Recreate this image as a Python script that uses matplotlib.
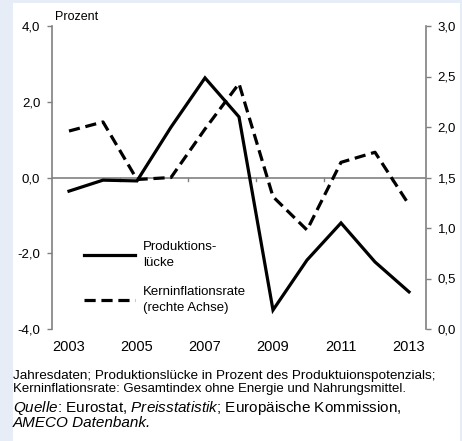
import matplotlib
matplotlib.use("Agg")
import matplotlib.pyplot as plt
from matplotlib.patches import Rectangle
from matplotlib.ticker import FuncFormatter

plt.rcParams['font.family'] = ['Liberation Sans', 'DejaVu Sans']
plt.rcParams['mathtext.fontset'] = 'custom'
plt.rcParams['mathtext.rm'] = 'Liberation Sans'
plt.rcParams['mathtext.it'] = 'Liberation Sans:italic'

# Data
years = [2003, 2004, 2005, 2006, 2007, 2008, 2009, 2010, 2011, 2012, 2013]
produktionsluecke = [-0.36, -0.07, -0.09, 1.33, 2.63, 1.60, -3.50, -2.18, -1.20, -2.23, -3.02]
kerninflation = [1.96, 2.05, 1.48, 1.50, 1.98, 2.43, 1.31, 0.98, 1.65, 1.75, 1.23]
yearLabels = [2003, 2005, 2007, 2009, 2011, 2013]

grey = '#808080'
comma = FuncFormatter(lambda v, p: ('%.1f' % v).replace('.', ','))
W, H = 462, 441

fig = plt.figure(figsize=(W/100, H/100), dpi=100)
fig.patch.set_facecolor('#e6edf6')
fig.patches.append(Rectangle((13/W, 0), (460-13)/W, (H-3)/H, transform=fig.transFigure,
                             facecolor='white', edgecolor='none', zorder=-5))

ax = fig.add_axes([52/W, 1-329/H, (426-52)/W, (329-26)/H])
ax.set_facecolor('none')
ax2 = ax.twinx()
ax2.set_facecolor('none')

ax.plot(years, produktionsluecke, color='black', lw=2.3, solid_joinstyle='miter', label='Produktions-\nlücke', zorder=3)
ax2.plot(years, kerninflation, color='black', lw=2.3, dashes=(3.5, 1.8), label='Kerninflationsrate\n(rechte Achse)')

ax.set_xlim(2002.5, 2013.5)
ax.set_ylim(-4, 4)
ax2.set_ylim(0, 3)
ax.set_yticks([-4, -2, 0, 2, 4])
ax2.set_yticks([0, 0.5, 1.0, 1.5, 2.0, 2.5, 3.0])
ax.yaxis.set_major_formatter(comma)
ax2.yaxis.set_major_formatter(comma)

ax.axhline(0, color=grey, lw=1.2, zorder=1)

for a in (ax, ax2):
    for s in ('top', 'bottom'):
        a.spines[s].set_visible(False)
ax.spines['right'].set_visible(False)
ax2.spines['left'].set_visible(False)
ax.spines['left'].set_color(grey)
ax.spines['left'].set_linewidth(1.2)
ax2.spines['right'].set_color(grey)
ax2.spines['right'].set_linewidth(1.2)

ax.tick_params(axis='y', colors=grey, labelcolor='black', labelsize=9.5, length=3.5, width=1, pad=5)
ax2.tick_params(axis='y', colors=grey, labelcolor='black', labelsize=9.5, length=3.5, width=1, pad=5)

# Year labels below plot; small ticks on zero line
ax.set_xticks(yearLabels)
ax.set_xticklabels([str(y) for y in yearLabels], fontsize=10.5)
ax.tick_params(axis='x', length=0, pad=8)
for t in [2004.5, 2006.5, 2008.5, 2010.5, 2012.5]:
    ax.plot([t, t], [0, -0.1], color=grey, lw=1, zorder=1)

fig.text(55/W, 1-17/H, 'Prozent', fontsize=9, va='center', ha='left')

# Legend
h1, l1 = ax.get_legend_handles_labels()
h2, l2 = ax2.get_legend_handles_labels()
leg = ax.legend(h1 + h2, l1 + l2, loc='upper left', bbox_to_anchor=(72/W, 1-229/H),
                bbox_transform=fig.transFigure, frameon=False,
                fontsize=9.5, handlelength=3.9, labelspacing=1.3, handletextpad=0.6)
for t in leg.get_texts():
    t.set_linespacing(1.45)

fig.text(13/W, 1-376/H, 'Jahresdaten; Produktionslücke in Prozent des Produktuionspotenzials;',
         fontsize=9.7, va='center')
fig.text(13/W, 1-389/H, 'Kerninflationsrate: Gesamtindex ohne Energie und Nahrungsmittel.',
         fontsize=9.5, va='center')
fig.text(13/W, 1-408/H, r'$\it{Quelle}$: Eurostat, $\it{Preisstatistik}$; Europäische Kommission,',
         fontsize=11, va='center')
fig.text(13/W, 1-423/H, 'AMECO Datenbank.', fontsize=11, va='center', style='italic')

fig.savefig('out.png', dpi=100)
